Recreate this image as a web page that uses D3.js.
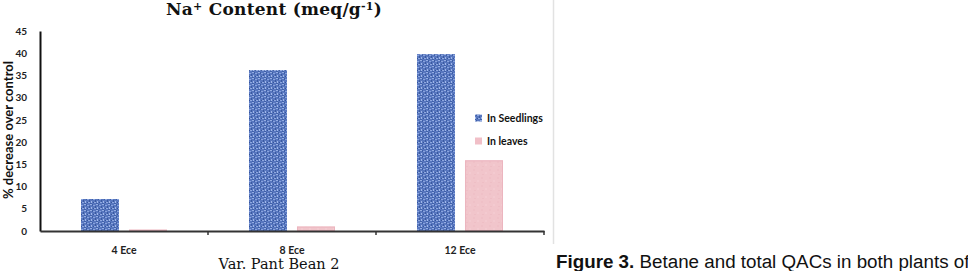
<!DOCTYPE html>
<html>
<head>
<meta charset="utf-8">
<script src="https://cdn.jsdelivr.net/npm/d3@7"></script>
<style>
  html, body { margin: 0; padding: 0; background: #fff; }
  svg { display: block; }
</style>
</head>
<body>
<svg id="chart" width="968" height="271"></svg>
<script>
const categories = ["4 Ece", "8 Ece", "12 Ece"];
const seriesNames = ["In Seedlings", "In leaves"];
const seedlings = [7.2, 36.2, 39.8];
const leaves = [0.3, 1.0, 15.9];
const yTicks = [0, 5, 10, 15, 20, 25, 30, 35, 40, 45];

const svg = d3.select("#chart");
const defs = svg.append("defs");

// denim-like texture for seedlings
const pat = defs.append("pattern").attr("id", "denim")
  .attr("patternUnits", "userSpaceOnUse").attr("width", 6).attr("height", 6);
pat.append("rect").attr("width", 6).attr("height", 6).attr("fill", "#5877bf");
[[0,0,2,1,"#94ade3"],[3,1,2,1,"#88a3de"],[1,3,1,2,"#9fb6e8"],[4,4,2,1,"#8ea8e0"],
 [2,0,1,2,"#3d5ea6"],[5,2,1,2,"#39599f"],[0,5,2,1,"#4061a9"],[3,4,1,1,"#33539a"]]
 .forEach(([x,y,w,h,c]) => pat.append("rect").attr("x",x).attr("y",y).attr("width",w).attr("height",h).attr("fill",c));

const pat2 = defs.append("pattern").attr("id", "pinktex")
  .attr("patternUnits", "userSpaceOnUse").attr("width", 8).attr("height", 8);
pat2.append("rect").attr("width", 8).attr("height", 8).attr("fill", "#f1c5cb");
[[1,1,2,2,"#efc0c7"],[5,4,2,2,"#f3cad0"],[2,6,2,1,"#eebec5"]]
 .forEach(([x,y,w,h,c]) => pat2.append("rect").attr("x",x).attr("y",y).attr("width",w).attr("height",h).attr("fill",c));

const fills = ["url(#denim)", "url(#pinktex)"];

const x0 = d3.scaleBand().domain(categories).range([40, 544]).padding(0);
const groupW = 86;
const x1 = d3.scaleBand().domain(seriesNames)
  .range([(x0.bandwidth() - groupW) / 2, (x0.bandwidth() + groupW) / 2])
  .paddingInner(0.208);
const y = d3.scaleLinear().domain([0, 45]).range([231, 31]);

const data = [seedlings, leaves];

// bars
seriesNames.forEach((s, si) => {
  svg.append("g").selectAll("rect").data(categories).join("rect")
    .attr("x", c => x0(c) + x1(s))
    .attr("y", (c, i) => y(data[si][i]))
    .attr("width", x1.bandwidth())
    .attr("height", (c, i) => y(0) - y(data[si][i]))
    .attr("fill", fills[si]);
});
// pink bar subtle side edges
svg.append("g").selectAll("rect").data(categories).join("rect")
  .attr("x", c => x0(c) + x1("In leaves") + 0.5)
  .attr("y", (c, i) => y(leaves[i]) + 0.5)
  .attr("width", x1.bandwidth() - 1)
  .attr("height", (c, i) => Math.max(0, y(0) - y(leaves[i]) - 1))
  .attr("fill", "none").attr("stroke", "#ecb5bf").attr("stroke-width", 1);

// y axis
const yAxis = d3.axisLeft(y).tickValues(yTicks).tickSize(0).tickPadding(13);
const gy = svg.append("g").attr("transform", "translate(40,0)").call(yAxis);
gy.select(".domain").attr("stroke", "#111").attr("stroke-width", 2);
gy.selectAll("text").attr("font-family", "Lato, 'Open Sans', sans-serif")
  .attr("font-weight", "bold").attr("font-size", 10).attr("fill", "#222");

// x axis
const xAxis = d3.axisBottom(x0).tickSize(0).tickPadding(16);
const gx = svg.append("g").attr("transform", "translate(0,231)").call(xAxis);
gx.select(".domain").attr("stroke", "#333").attr("stroke-width", 2);
gx.selectAll("text").attr("font-family", "Lato, 'Open Sans', sans-serif")
  .attr("font-weight", "bold").attr("font-size", 10.5).attr("fill", "#222");
// boundary tick marks
const bounds = categories.map(c => x0(c) + x0.bandwidth());
gx.append("g").selectAll("line").data(bounds).join("line")
  .attr("x1", d => d).attr("x2", d => d).attr("y1", 0).attr("y2", 4)
  .attr("stroke", "#333").attr("stroke-width", 1.5);

// title
const title = svg.append("text").attr("x", 274).attr("y", 15)
  .attr("text-anchor", "middle")
  .attr("font-family", "'DejaVu Serif', 'Liberation Serif', serif")
  .attr("font-weight", "bold").attr("font-size", 17).attr("letter-spacing", 0.25)
  .attr("fill", "#111");
title.append("tspan").text("Na");
title.append("tspan").attr("font-size", 11).attr("dy", -5).text("+");
title.append("tspan").attr("dy", 5).text(" Content (meq/g");
title.append("tspan").attr("font-size", 11).attr("dy", -5).text("-1");
title.append("tspan").attr("dy", 5).text(")");

// y axis title
svg.append("text")
  .attr("transform", "translate(13,130) rotate(-90)")
  .attr("text-anchor", "middle")
  .attr("font-family", "Lato, 'Open Sans', sans-serif")
  .attr("font-weight", "bold").attr("font-size", 13).attr("fill", "#111")
  .text("% decrease over control");

// x axis title
svg.append("text").attr("x", 279).attr("y", 269)
  .attr("text-anchor", "middle")
  .attr("font-family", "'DejaVu Serif', 'Liberation Serif', serif")
  .attr("font-size", 14.5).attr("fill", "#111")
  .text("Var. Pant Bean 2");

// legend
const lg = svg.append("g");
seriesNames.forEach((s, i) => {
  const ly = 118 + i * 23;
  lg.append("rect").attr("x", 475).attr("y", ly - 3.5).attr("width", 7).attr("height", 7)
    .attr("fill", i === 0 ? "url(#denim)" : "#f1bfc7");
  lg.append("text").attr("x", 487).attr("y", ly + 3.5)
    .attr("font-family", "Lato, 'Open Sans', sans-serif")
    .attr("font-weight", "bold").attr("font-size", 10.5).attr("fill", "#111")
    .text(s);
});

// separator
svg.append("line").attr("x1", 553.5).attr("x2", 553.5).attr("y1", 0).attr("y2", 244)
  .attr("stroke", "#e2e2e2").attr("stroke-width", 1.5);

// caption
const cap = svg.append("text").attr("x", 556).attr("y", 268)
  .attr("font-family", "'Liberation Sans', Arial, sans-serif")
  .attr("font-size", 18.8).attr("fill", "#111");
cap.append("tspan").attr("font-weight", "bold").text("Figure 3.");
cap.append("tspan").text(" Betane and total QACs in both plants of");
</script>
</body>
</html>
